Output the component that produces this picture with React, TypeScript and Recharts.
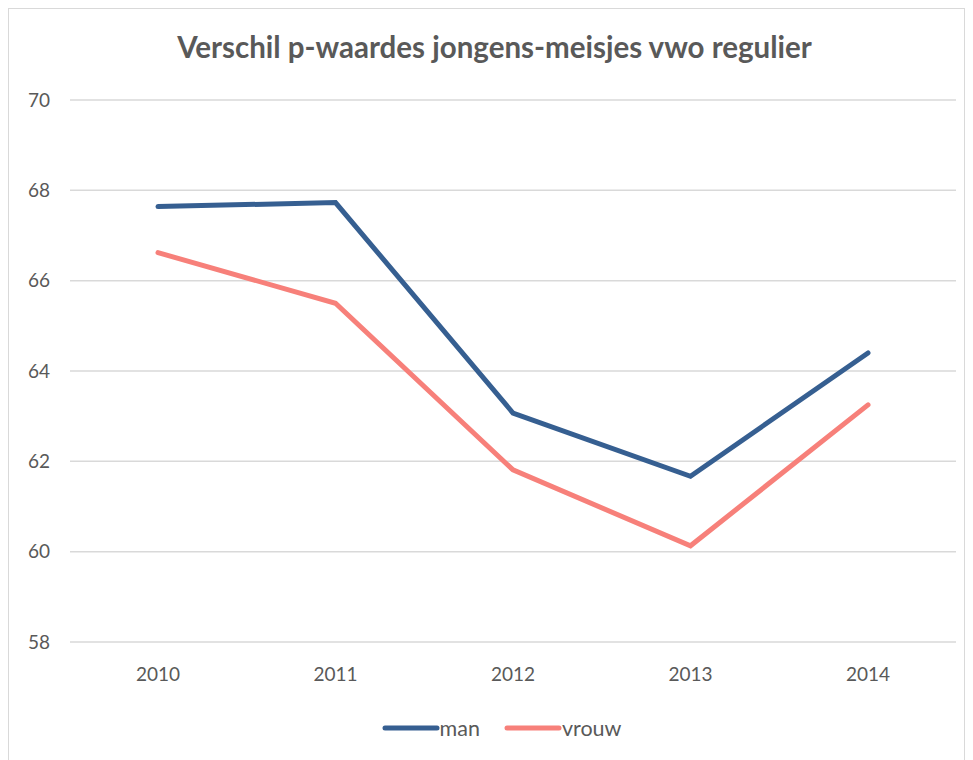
import { LineChart, Line, XAxis, YAxis, CartesianGrid, Legend } from 'recharts'

// years on the x axis
const years = ['2010', '2011', '2012', '2013', '2014']
// p-waardes per jaar
const manValues = [67.64, 67.73, 63.07, 61.67, 64.4]
const vrouwValues = [66.62, 65.5, 61.81, 60.13, 63.25]
const yTicks = [58, 60, 62, 64, 66, 68, 70]

const MAN_COLOR = '#365F91'
const VROUW_COLOR = '#F7807A'
const TEXT_COLOR = '#595959'
const FONT = 'Lato, "Open Sans", sans-serif'

const data = years.map((year, i) => ({
  year,
  man: manValues[i],
  vrouw: vrouwValues[i],
}))

function LegendContent() {
  const items = [
    { name: 'man', color: MAN_COLOR },
    { name: 'vrouw', color: VROUW_COLOR },
  ]
  return (
    <div style={{ display: 'flex', justifyContent: 'center', alignItems: 'center', gap: 24, paddingLeft: 38 }}>
      {items.map((it) => (
        <div key={it.name} style={{ display: 'flex', alignItems: 'center' }}>
          <svg width={58} height={10}>
            <line x1={3} y1={5} x2={55} y2={5} stroke={it.color} strokeWidth={5} strokeLinecap="round" />
          </svg>
          <span style={{ fontFamily: FONT, fontSize: 21.5, color: TEXT_COLOR }}>{it.name}</span>
        </div>
      ))}
    </div>
  )
}

export default function App() {
  return (
    <div
      style={{
        position: 'relative',
        width: 955,
        height: 760,
        border: '1px solid #d9d9d9',
        background: '#fff',
      }}
    >
      <div
        style={{
          position: 'absolute',
          top: 20,
          left: 8,
          width: 955,
          textAlign: 'center',
          fontFamily: FONT,
          fontWeight: 700,
          fontSize: 29.5,
          color: TEXT_COLOR,
        }}
      >
        Verschil p-waardes jongens-meisjes vwo regulier
      </div>
      <LineChart width={955} height={752} data={data} margin={{ top: 91, right: 8, bottom: 22, left: 0 }}>
        <CartesianGrid vertical={false} stroke="#d9d9d9" strokeWidth={1.5} />
        <XAxis
          dataKey="year"
          axisLine={false}
          tickLine={false}
          tickSize={0}
          tickMargin={26}
          height={73}
          padding={{ left: 88, right: 88 }}
          tick={{ fill: TEXT_COLOR, fontSize: 19, fontFamily: FONT }}
        />
        <YAxis
          domain={[58, 70]}
          ticks={yTicks}
          axisLine={false}
          tickLine={false}
          tickSize={0}
          tickMargin={20}
          width={61}
          tick={{ fill: TEXT_COLOR, fontSize: 19, fontFamily: FONT }}
        />
        <Legend verticalAlign="bottom" height={24} content={<LegendContent />} />
        <Line
          type="linear"
          dataKey="man"
          stroke={MAN_COLOR}
          strokeWidth={5}
          strokeLinecap="round"
          dot={false}
          isAnimationActive={false}
        />
        <Line
          type="linear"
          dataKey="vrouw"
          stroke={VROUW_COLOR}
          strokeWidth={5}
          strokeLinecap="round"
          dot={false}
          isAnimationActive={false}
        />
      </LineChart>
    </div>
  )
}
